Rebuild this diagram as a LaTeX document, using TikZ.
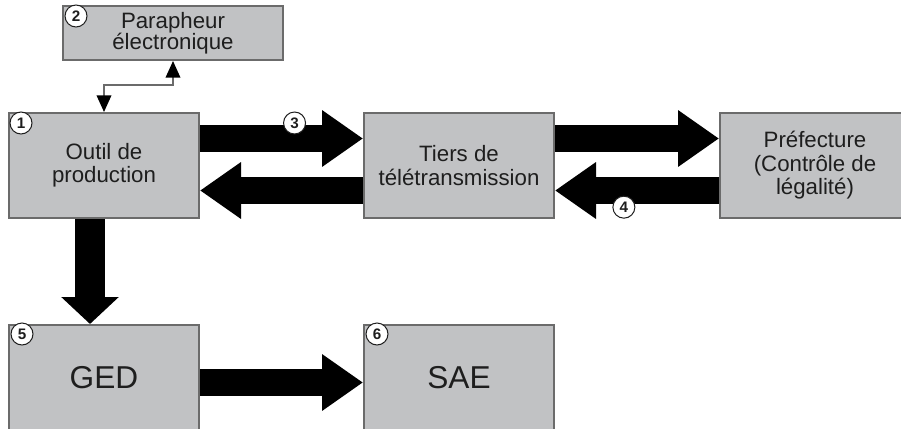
\documentclass[tikz,border=0pt]{standalone}
\usepackage{fontspec}
\setmainfont{Liberation Sans}
\usetikzlibrary{positioning,arrows.meta}
\definecolor{boxgrey}{HTML}{C1C2C4}
\definecolor{edgegrey}{HTML}{6B6B6B}
\definecolor{ink}{HTML}{1E1E1E}
\tikzset{
  box/.style={draw=edgegrey,fill=boxgrey,line width=0.6mm,minimum width=57mm,minimum height=31.5mm,inner sep=0pt,align=center,text=ink,font=\fontsize{19}{20}\selectfont},
  bigbox/.style={box,font=\fontsize{27}{30}\selectfont},
  parabox/.style={box,minimum width=66mm,minimum height=16.2mm,font=\fontsize{19}{18}\selectfont},
  num/.style={circle,draw=ink,fill=white,line width=0.3mm,minimum size=6.6mm,inner sep=0pt,text=ink,font=\fontsize{13}{13}\selectfont\bfseries},
  bigflow/.style={line width=8.2mm,-{Triangle[length=12.3mm,width=16.2mm]}},
  downflow/.style={line width=9mm,-{Triangle[length=8.1mm,width=16.8mm]}},
  thinflow/.style={draw=edgegrey,line width=0.45mm,{Triangle[length=5mm,width=4.4mm,black]}-{Triangle[length=5mm,width=4.4mm,black]}}}

\begin{document}
\begin{tikzpicture}
  \useasboundingbox (-31.2mm,-78.75mm) rectangle (239.1mm,49.65mm);
  \clip (-31.2mm,-78.75mm) rectangle (239.1mm,49.65mm);
  \node[box] (outil) at (0,0) {Outil de\\production};
  \node[box,right=48.9mm of outil] (tiers) {Tiers de\\télétransmission};
  \node[box,right=49.2mm of tiers] (pref) {Préfecture\\(Contrôle de\\légalité)};
  \node[parabox,above=15.3mm of outil,xshift=20.7mm] (para) {Parapheur\\électronique};
  \node[bigbox,below=31.5mm of outil] (ged) {GED};
  \node[bigbox,right=48.9mm of ged] (sae) {SAE};
  \draw[thinflow] (para.south) -- ++(0,-7.2mm) -| (outil.north);
  \draw[bigflow] ([yshift=8.1mm]outil.east) -- ([yshift=8.1mm]tiers.west) node[num,pos=0.58,yshift=4.65mm] (n3) {3};
  \draw[bigflow] ([yshift=-7.5mm]tiers.west) -- ([yshift=-7.5mm]outil.east);
  \draw[bigflow] ([yshift=8.1mm]tiers.east) -- ([yshift=8.1mm]pref.west);
  \draw[bigflow] ([yshift=-7.5mm]pref.west) -- ([yshift=-7.5mm]tiers.east) node[num,pos=0.58,yshift=-5mm] (n4) {4};
  \draw[downflow] ([xshift=-4.2mm]outil.south) -- ([xshift=-4.2mm]ged.north);
  \draw[bigflow] ([yshift=-1.5mm]ged.east) -- ([yshift=-1.5mm]sae.west);
  \node[num] (n1) at ([shift={(3.9mm,-3.3mm)}]outil.north west) {1};
  \node[num] (n2) at ([shift={(4.2mm,-3.3mm)}]para.north west) {2};
  \node[num] (n5) at ([shift={(4.2mm,-3mm)}]ged.north west) {5};
  \node[num] (n6) at ([shift={(4.2mm,-3mm)}]sae.north west) {6};
\end{tikzpicture}
\end{document}
